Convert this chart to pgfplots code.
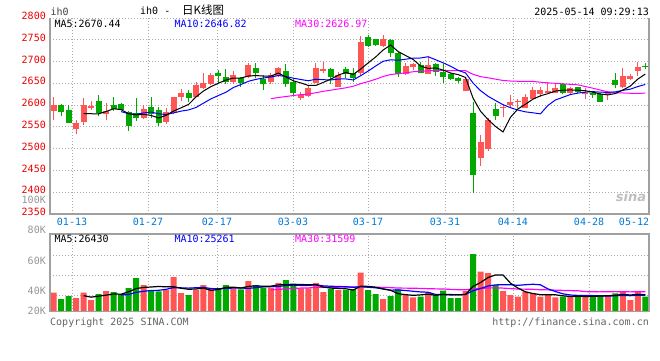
\documentclass[border=0pt]{standalone}
\usepackage{pgfplots}
\pgfplotsset{compat=1.18}
\usepackage{pgfplotstable}
\usepackage{fontspec}
\setmainfont{DejaVu Sans Mono}
\newfontfamily\cjk{Noto Sans CJK SC}
\newfontfamily\sansb{DejaVu Sans}
\definecolor{cred}{RGB}{255,85,85}
\definecolor{cgreen}{RGB}{0,168,0}
\definecolor{gridc}{RGB}{170,170,170}
\definecolor{framec}{RGB}{160,160,160}
\definecolor{labred}{RGB}{235,0,0}
\definecolor{labblue}{RGB}{0,120,210}
\definecolor{labgray}{RGB}{150,150,150}
\definecolor{maBlue}{RGB}{0,0,255}
\definecolor{maMag}{RGB}{255,0,255}
\definecolor{txtgray}{RGB}{100,100,100}

% up (red) candles: i, body low, body size, low, wick size
\pgfplotstableread{
i lo bd l wk
0 2587.2 13.1 2565.8 52.8
3 2545.9 13.0 2534.4 31.4
4 2562.0 38.3 2554.3 62.8
5 2594.1 4.6 2588.8 20.6
7 2578.8 7.6 2565.8 38.3
12 2571.2 19.9 2567.3 33.0
15 2562.0 21.4 2556.6 37.5
16 2581.1 37.5 2578.8 40.6
17 2619.4 9.2 2609.4 27.6
19 2619.4 26.8 2618.6 33.7
20 2638.5 13.0 2637.0 36.0
21 2648.5 20.6 2646.2 26.8
24 2653.8 15.3 2647.7 31.4
26 2663.8 28.3 2661.5 35.9
29 2652.3 16.8 2647.7 26.8
30 2667.6 18.4 2665.3 23.0
33 2617.1 6.1 2611.7 19.2
34 2620.9 19.2 2619.4 24.5
35 2651.5 34.5 2650.0 47.4
36 2678.3 4.7 2674.5 25.2
38 2642.3 27.7 2640.8 36.0
41 2673.0 72.7 2669.1 89.6
44 2735.7 15.3 2734.2 26.8
47 2671.4 18.4 2669.1 26.8
48 2688.3 5.3 2680.6 15.3
50 2671.4 20.7 2670.7 39.0
55 2633.2 26.0 2632.4 30.6
57 2477.8 36.7 2461.0 70.4
58 2499.2 66.6 2495.4 75.8
60 2592.6 3.8 2572.0 30.0
61 2600.3 7.6 2592.6 30.6
62 2606.4 3.8 2592.6 20.7
63 2594.1 25.3 2592.6 32.1
64 2614.1 20.6 2611.7 30.6
65 2625.5 9.2 2619.4 21.4
66 2628.6 3.8 2627.1 26.7
67 2628.6 11.5 2627.1 22.9
69 2628.6 9.9 2624.7 17.6
71 2625.5 1.6 2613.3 25.2
74 2624.7 3.9 2611.7 20.7
76 2640.8 26.8 2638.5 45.9
77 2659.2 8.4 2657.7 13.0
78 2679.1 9.2 2667.6 32.1
}\upc

% down (green) candles
\pgfplotstableread{
i lo bd l wk
1 2583.4 16.9 2575.8 26.8
2 2559.7 29.8 2559.7 40.6
6 2582.6 26.8 2574.2 49.0
8 2590.3 10.0 2586.5 32.1
9 2589.5 13.1 2588.0 17.6
10 2552.8 32.1 2541.3 45.2
11 2569.6 11.5 2564.3 52.8
13 2578.8 16.8 2569.6 49.8
14 2559.7 29.1 2552.0 42.9
18 2617.1 11.5 2607.9 26.8
22 2667.6 6.1 2648.5 32.1
23 2653.8 10.7 2647.7 35.2
25 2651.5 10.0 2642.3 23.0
27 2673.0 13.0 2661.5 35.9
28 2647.7 11.5 2634.7 34.4
31 2647.7 30.6 2642.3 52.1
32 2628.6 23.7 2621.7 41.3
37 2665.3 17.7 2647.7 38.3
39 2670.7 12.3 2661.5 26.8
40 2663.0 10.0 2652.3 33.7
42 2735.7 21.4 2734.2 26.8
43 2738.0 13.0 2735.7 16.1
45 2718.9 30.6 2711.2 39.8
46 2671.4 47.5 2663.8 58.9
49 2674.5 17.6 2673.0 26.7
51 2676.8 17.6 2666.8 29.1
52 2665.3 11.5 2651.5 42.9
53 2660.0 10.7 2657.7 16.8
54 2656.1 6.9 2651.5 13.8
56 2439.5 141.6 2397.5 210.4
59 2576.0 16.0 2566.0 38.0
68 2628.6 19.1 2624.7 25.3
70 2630.9 9.9 2624.7 17.6
72 2623.2 5.4 2617.1 15.3
73 2607.9 16.8 2607.9 19.2
75 2646.2 11.5 2638.5 34.4
79 2686.7 3.8 2682.9 13.0
}\dnc

\pgfplotstableread{
i v
4 2580.5
5 2580.2
6 2580.0
7 2585.4
8 2591.7
9 2589.5
10 2580.3
11 2577.7
12 2578.7
13 2576.4
14 2570.4
15 2576.5
16 2586.3
17 2593.8
18 2601.5
19 2618.8
20 2632.4
21 2642.5
22 2650.3
23 2657.6
24 2662.2
25 2662.2
26 2666.8
27 2667.9
28 2666.7
29 2666.7
30 2673.6
31 2664.7
32 2655.8
33 2650.9
34 2645.1
35 2645.1
36 2652.2
37 2659.5
38 2668.9
39 2675.0
40 2670.4
41 2682.9
42 2697.0
43 2710.6
44 2726.7
45 2737.9
46 2723.0
47 2713.8
48 2704.9
49 2689.6
50 2684.3
51 2685.4
52 2680.5
53 2673.7
54 2670.1
55 2663.5
56 2616.0
57 2585.9
58 2567.0
59 2551.0
60 2538.4
61 2572.1
62 2591.3
63 2602.0
64 2613.7
65 2621.4
66 2626.3
67 2632.3
68 2634.1
69 2634.9
70 2634.1
71 2633.0
72 2629.7
73 2625.5
74 2623.5
75 2626.6
76 2634.7
77 2643.6
78 2659.7
79 2671.3
}\mafive

\pgfplotstableread{
i v
9 2585.0
10 2580.3
11 2578.9
12 2582.0
13 2584.0
14 2580.0
15 2578.4
16 2582.0
17 2586.2
18 2588.9
19 2594.6
20 2604.5
21 2614.4
22 2622.1
23 2629.6
24 2640.5
25 2647.3
26 2654.7
27 2659.1
28 2662.2
29 2664.5
30 2667.9
31 2665.8
32 2661.9
33 2658.8
34 2655.9
35 2659.4
36 2658.4
37 2657.7
38 2659.9
39 2660.1
40 2657.8
41 2667.6
42 2678.3
43 2689.8
44 2700.8
45 2704.1
46 2703.0
47 2705.4
48 2707.8
49 2708.2
50 2711.1
51 2704.2
52 2697.1
53 2689.3
54 2679.9
55 2673.9
56 2650.7
57 2633.2
58 2620.4
59 2610.5
60 2601.0
61 2594.1
62 2588.6
63 2584.5
64 2582.4
65 2579.9
66 2599.2
67 2611.8
68 2618.0
69 2624.3
70 2627.7
71 2629.7
72 2631.0
73 2629.8
74 2629.2
75 2630.4
76 2633.9
77 2636.6
78 2642.6
79 2647.4
}\maten

\pgfplotstableread{
i v
29 2614.7
30 2617.5
31 2619.7
32 2622.0
33 2624.1
34 2625.5
35 2628.4
36 2631.7
37 2634.3
38 2637.0
39 2639.7
40 2643.4
41 2649.2
42 2654.1
43 2659.4
44 2665.7
45 2670.3
46 2672.0
47 2674.1
48 2676.6
49 2677.6
50 2678.9
51 2679.2
52 2679.1
53 2679.3
54 2678.9
55 2679.1
56 2670.7
57 2665.4
58 2662.7
59 2659.6
60 2656.6
61 2655.3
62 2654.7
63 2654.5
64 2654.4
65 2652.6
66 2651.0
67 2650.1
68 2648.7
69 2647.7
70 2646.6
71 2642.6
72 2638.9
73 2634.6
74 2630.5
75 2628.0
76 2627.9
77 2627.2
78 2627.0
79 2627.4
}\mathirty

% volume (scaled units)
\pgfplotstableread{
i v
0 19.0
3 13.7
4 19.0
5 11.7
7 20.7
12 26.7
15 21.7
16 34.7
17 18.7
19 21.7
20 26.7
21 22.7
24 23.0
26 30.7
29 24.0
30 28.7
33 23.4
34 23.4
35 28.7
36 19.7
38 21.7
41 39.0
44 12.7
47 16.7
48 14.4
50 19.4
55 20.7
57 40.0
58 38.7
60 20.7
61 16.7
62 15.0
63 20.0
64 18.4
65 15.0
66 16.7
67 14.4
69 15.0
71 15.0
74 16.7
76 20.0
77 11.7
78 20.0
}\upv

\pgfplotstableread{
i v
1 12.7
2 15.7
6 17.7
8 19.7
9 17.7
10 23.7
11 33.7
13 21.7
14 20.4
18 16.7
22 23.7
23 26.7
25 22.4
27 26.7
28 24.0
31 31.7
32 28.0
37 22.9
39 21.7
40 22.4
42 21.7
43 17.7
45 15.7
46 22.4
49 15.0
51 16.7
52 21.0
53 13.7
54 13.7
56 57.7
59 26.7
68 15.0
70 16.7
72 15.0
73 16.7
75 18.4
79 15.0
}\dnv

\pgfplotstableread{
i v
4 16.02
5 14.56
6 15.56
7 16.56
8 17.76
9 17.50
10 19.90
11 23.10
12 24.30
13 24.70
14 25.24
15 24.84
16 25.04
17 23.44
18 22.44
19 22.70
20 23.70
21 21.30
22 22.30
23 24.30
24 24.56
25 23.70
26 25.30
27 25.90
28 25.36
29 25.56
30 26.82
31 27.02
32 27.28
33 27.16
34 27.04
35 27.04
36 24.64
37 23.62
38 23.28
39 22.94
40 21.68
41 25.54
42 25.30
43 24.50
44 22.70
45 21.36
46 18.04
47 17.04
48 16.38
49 16.84
50 17.58
51 16.44
52 17.30
53 17.16
54 16.90
55 17.16
56 25.36
57 29.16
58 34.16
59 36.76
60 36.76
61 28.56
62 23.56
63 19.82
64 18.16
65 17.02
66 17.02
67 16.90
68 15.90
69 15.22
70 15.56
71 15.22
72 15.34
73 15.68
74 16.02
75 16.36
76 17.36
77 16.70
78 17.36
79 17.02
}\vfive

\pgfplotstableread{
i v
9 16.76
10 17.23
11 19.33
12 20.43
13 21.23
14 21.37
15 22.37
16 24.07
17 23.87
18 23.57
19 23.97
20 24.27
21 23.17
22 22.87
23 23.37
24 23.63
25 23.70
26 23.30
27 24.10
28 24.83
29 25.06
30 25.26
31 26.16
32 26.59
33 26.26
34 26.30
35 26.93
36 25.83
37 25.45
38 25.22
39 24.99
40 24.36
41 25.09
42 24.46
43 23.89
44 22.82
45 21.52
46 21.79
47 21.17
48 20.44
49 19.77
50 19.47
51 17.24
52 17.17
53 16.77
54 16.87
55 17.37
56 20.90
57 23.23
58 25.66
59 26.83
60 26.96
61 26.96
62 26.36
63 26.99
64 27.46
65 26.89
66 22.79
67 20.23
68 17.86
69 16.69
70 16.29
71 16.12
72 16.12
73 15.79
74 15.62
75 15.96
76 16.29
77 16.02
78 16.52
79 16.52
}\vten

\pgfplotstableread{
i v
29 21.93
30 22.25
31 22.89
32 23.30
33 23.62
34 23.77
35 24.33
36 24.40
37 24.47
38 24.54
39 24.67
40 24.63
41 24.81
42 24.64
43 24.51
44 24.25
45 24.05
46 23.64
47 23.57
48 23.50
49 23.27
50 23.03
51 22.83
52 22.74
53 22.31
54 22.00
55 21.94
56 22.84
57 23.28
58 23.77
59 23.86
60 23.60
61 23.10
62 22.66
63 22.55
64 22.38
65 21.93
66 21.83
67 21.54
68 21.32
69 21.10
70 20.91
71 20.11
72 19.88
73 19.85
74 19.98
75 20.07
76 19.99
77 19.83
78 20.01
79 20.01
}\vthirty

\begin{document}
\begin{tikzpicture}[x=1pt,y=1pt,font=\fontsize{10}{12}\selectfont]
\path[use as bounding box] (0,0) rectangle (660,360);

% ---------------- price panel ----------------
\begin{axis}[
  at={(50pt,146pt)}, anchor=south west,
  scale only axis, width=599pt, height=196pt,
  xmin=-0.5, xmax=79.5, ymin=2350, ymax=2800,
  axis line style={draw=none},
  major tick length=0pt,
  tick label style={font=\fontsize{10}{12}\selectfont},
  ytick={2350,2400,2450,2500,2550,2600,2650,2700,2750,2800},
  yticklabels={2350,2400,2450,2500,2550,2600,2650,2700,2750,2800},
  yticklabel style={text=labred, inner sep=0pt, xshift=-4pt, yshift=2pt},
  xtick={2.44,12.59,21.8,31.95,41.97,52.25,61.33,71.49},
  xticklabels={01-13,01-27,02-17,03-03,03-17,03-31,04-14,04-28},
  extra x ticks={77.5}, extra x tick labels={05-12},
  extra x tick style={grid=none},
  xticklabel style={text=labblue, inner sep=0pt, yshift=-3.4pt},
  grid=major,
  grid style={gridc, dash pattern=on 1pt off 2pt, line width=0.9pt},
  clip=false,
]
% wicks
\addplot[draw=none, mark=none, error bars/.cd, y dir=plus, y explicit, error mark=none,
  error bar style={draw=cred, line width=1pt}] table[x=i, y=l, y error=wk]{\upc};
\addplot[draw=none, mark=none, error bars/.cd, y dir=plus, y explicit, error mark=none,
  error bar style={draw=cgreen, line width=1pt}] table[x=i, y=l, y error=wk]{\dnc};
% bodies
\addplot[draw=none, mark=none, error bars/.cd, y dir=plus, y explicit, error mark=none,
  error bar style={draw=cred, line width=6pt}] table[x=i, y=lo, y error=bd]{\upc};
\addplot[draw=none, mark=none, error bars/.cd, y dir=plus, y explicit, error mark=none,
  error bar style={draw=cgreen, line width=6pt}] table[x=i, y=lo, y error=bd]{\dnc};
% moving averages
\addplot[maMag, line width=1pt] table[x=i, y=v]{\mathirty};
\addplot[maBlue, line width=1pt] table[x=i, y=v]{\maten};
\addplot[black, line width=1pt] table[x=i, y=v]{\mafive};
\draw[framec, line width=1.5pt] (rel axis cs:0,1) -- (rel axis cs:0,0) -- (rel axis cs:1,0) -- (rel axis cs:1,1);
\end{axis}

% ---------------- volume panel ----------------
\begin{axis}[
  at={(50pt,48.3pt)}, anchor=south west,
  scale only axis, width=599pt, height=77.7pt,
  xmin=-0.5, xmax=79.5, ymin=0, ymax=77.7,
  axis line style={draw=none},
  major tick length=0pt,
  ytick={16,36,56}, yticklabels={,,},
  xtick={2.44,12.59,21.8,31.95,41.97,52.25,61.33,71.49}, xticklabels={,,,,,,,},
  grid=major,
  grid style={gridc, dash pattern=on 1pt off 2pt, line width=0.9pt},
  clip=false,
]
\addplot[ybar, bar width=6pt, bar shift=0pt, fill=cred, draw=none] table[x=i, y=v]{\upv};
\addplot[ybar, bar width=6pt, bar shift=0pt, fill=cgreen, draw=none] table[x=i, y=v]{\dnv};
\addplot[maMag, line width=1.2pt] table[x=i, y=v]{\vthirty};
\addplot[maBlue, line width=1.2pt] table[x=i, y=v]{\vten};
\addplot[black, line width=1.2pt] table[x=i, y=v]{\vfive};
\draw[framec, line width=1.5pt] (rel axis cs:0,0) rectangle (rel axis cs:1,1);
\end{axis}

% ---------------- texts ----------------
\node[anchor=west, inner sep=0pt, text=black!75] at (50.5,348) {ih0};
\node[anchor=west, inner sep=0pt] at (140,349) {ih0 -};
\node[anchor=west, inner sep=0pt] at (182,349.5) {\cjk\fontsize{11.5}{12}\selectfont 日K线图};
\node[anchor=east, inner sep=0pt] at (649,348.5) {2025-05-14 09:29:13};

\node[anchor=west, inner sep=0pt] at (54.3,336.3) {MA5:2670.44};
\node[anchor=west, inner sep=0pt, text=maBlue] at (174.3,336.3) {MA10:2646.82};
\node[anchor=west, inner sep=0pt, text=maMag] at (295,336.3) {MA30:2626.97};

\node[anchor=west, inner sep=0pt] at (54.3,121) {MA5:26430};
\node[anchor=west, inner sep=0pt, text=maBlue] at (174.3,121) {MA10:25261};
\node[anchor=west, inner sep=0pt, text=maMag] at (295,121) {MA30:31599};

\node[anchor=east, inner sep=0pt, text=labgray] at (46,160) {100K};
\node[anchor=east, inner sep=0pt, text=labgray] at (46,130) {80K};
\node[anchor=east, inner sep=0pt, text=labgray] at (46,99.3) {60K};
\node[anchor=east, inner sep=0pt, text=labgray] at (46,69.3) {40K};
\node[anchor=east, inner sep=0pt, text=labgray] at (46,49.3) {20K};

\node[anchor=west, inner sep=0pt, text=txtgray] at (50,37) {Copyright 2025 SINA.COM};
\node[anchor=east, inner sep=0pt, text=txtgray] at (649,37) {http://finance.sina.com.cn};

\node[anchor=center, inner sep=0pt, text=black!25] at (631,163) {\sansb\bfseries\itshape\fontsize{13}{13}\selectfont sina};
\end{tikzpicture}
\end{document}
